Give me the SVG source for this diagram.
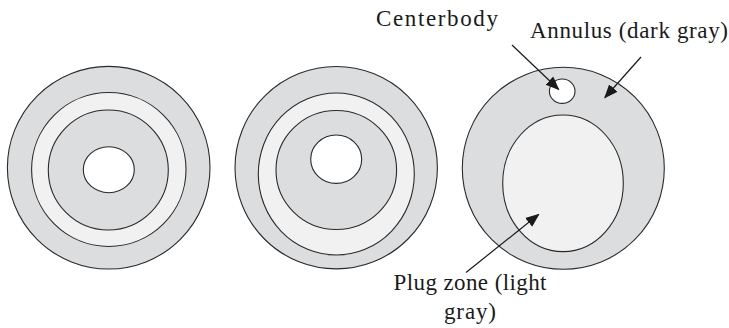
<svg xmlns="http://www.w3.org/2000/svg" width="729" height="328" viewBox="0 0 729 328">
<style>
.s{stroke:#2a2a2a;stroke-width:1.1}
.d{fill:#dcdddf}
.l{fill:#f1f1f1}
.w{fill:#ffffff}
.t{font-family:"Liberation Serif","Times New Roman",serif;font-size:23px;fill:#1a1a1a}
.a{stroke:#1a1a1a;stroke-width:1.2;fill:none;marker-end:url(#ah)}
</style>
<defs>
<marker id="ah" viewBox="0 0 10 10" refX="9" refY="5" markerWidth="14" markerHeight="14" markerUnits="userSpaceOnUse" orient="auto">
<path d="M0,1 L10,5 L0,9 Z" fill="#1a1a1a"/>
</marker>
</defs>
<rect width="729" height="328" fill="#ffffff"/>
<g id="section1">
<circle class="s d" cx="108.7" cy="167.7" r="101.3"/>
<ellipse class="s l" cx="108.8" cy="169.5" rx="77.2" ry="77"/>
<ellipse class="s d" cx="108.3" cy="170" rx="60" ry="60"/>
<ellipse class="s w" cx="108.8" cy="169.7" rx="25.5" ry="23"/>
</g>
<g id="section2">
<circle class="s d" cx="336.2" cy="167.7" r="101.2"/>
<ellipse class="s l" cx="336.3" cy="174" rx="78" ry="81"/>
<ellipse class="s d" cx="336.3" cy="170" rx="60.3" ry="59.5"/>
<ellipse class="s w" cx="336.2" cy="159.2" rx="25.5" ry="24.2"/>
</g>
<g id="section3">
<circle class="s d" cx="563.3" cy="168.3" r="101"/>
<ellipse class="s l" cx="563" cy="183.3" rx="60.3" ry="68.3"/>
<ellipse id="centerbody-hole" class="s w" cx="562.2" cy="91.2" rx="12.8" ry="12.2"/>
</g>
<g id="label-centerbody"><text class="t" x="376" y="26" textLength="122" lengthAdjust="spacing">Centerbody</text></g>
<g id="label-annulus"><text class="t" x="530" y="37.5" textLength="198" lengthAdjust="spacing">Annulus (dark gray)</text></g>
<g id="label-plug">
<text class="t" x="393.5" y="290" textLength="153" lengthAdjust="spacing">Plug zone (light</text>
<text class="t" x="444" y="319" textLength="52" lengthAdjust="spacing">gray)</text>
</g>
<g id="connectors">
<line class="a" x1="512" y1="45" x2="558.5" y2="89.3"/>
<line class="a" x1="641" y1="57" x2="605" y2="97.5"/>
<line class="a" x1="466" y1="272.5" x2="538.5" y2="214.5"/>
</g>
</svg>
